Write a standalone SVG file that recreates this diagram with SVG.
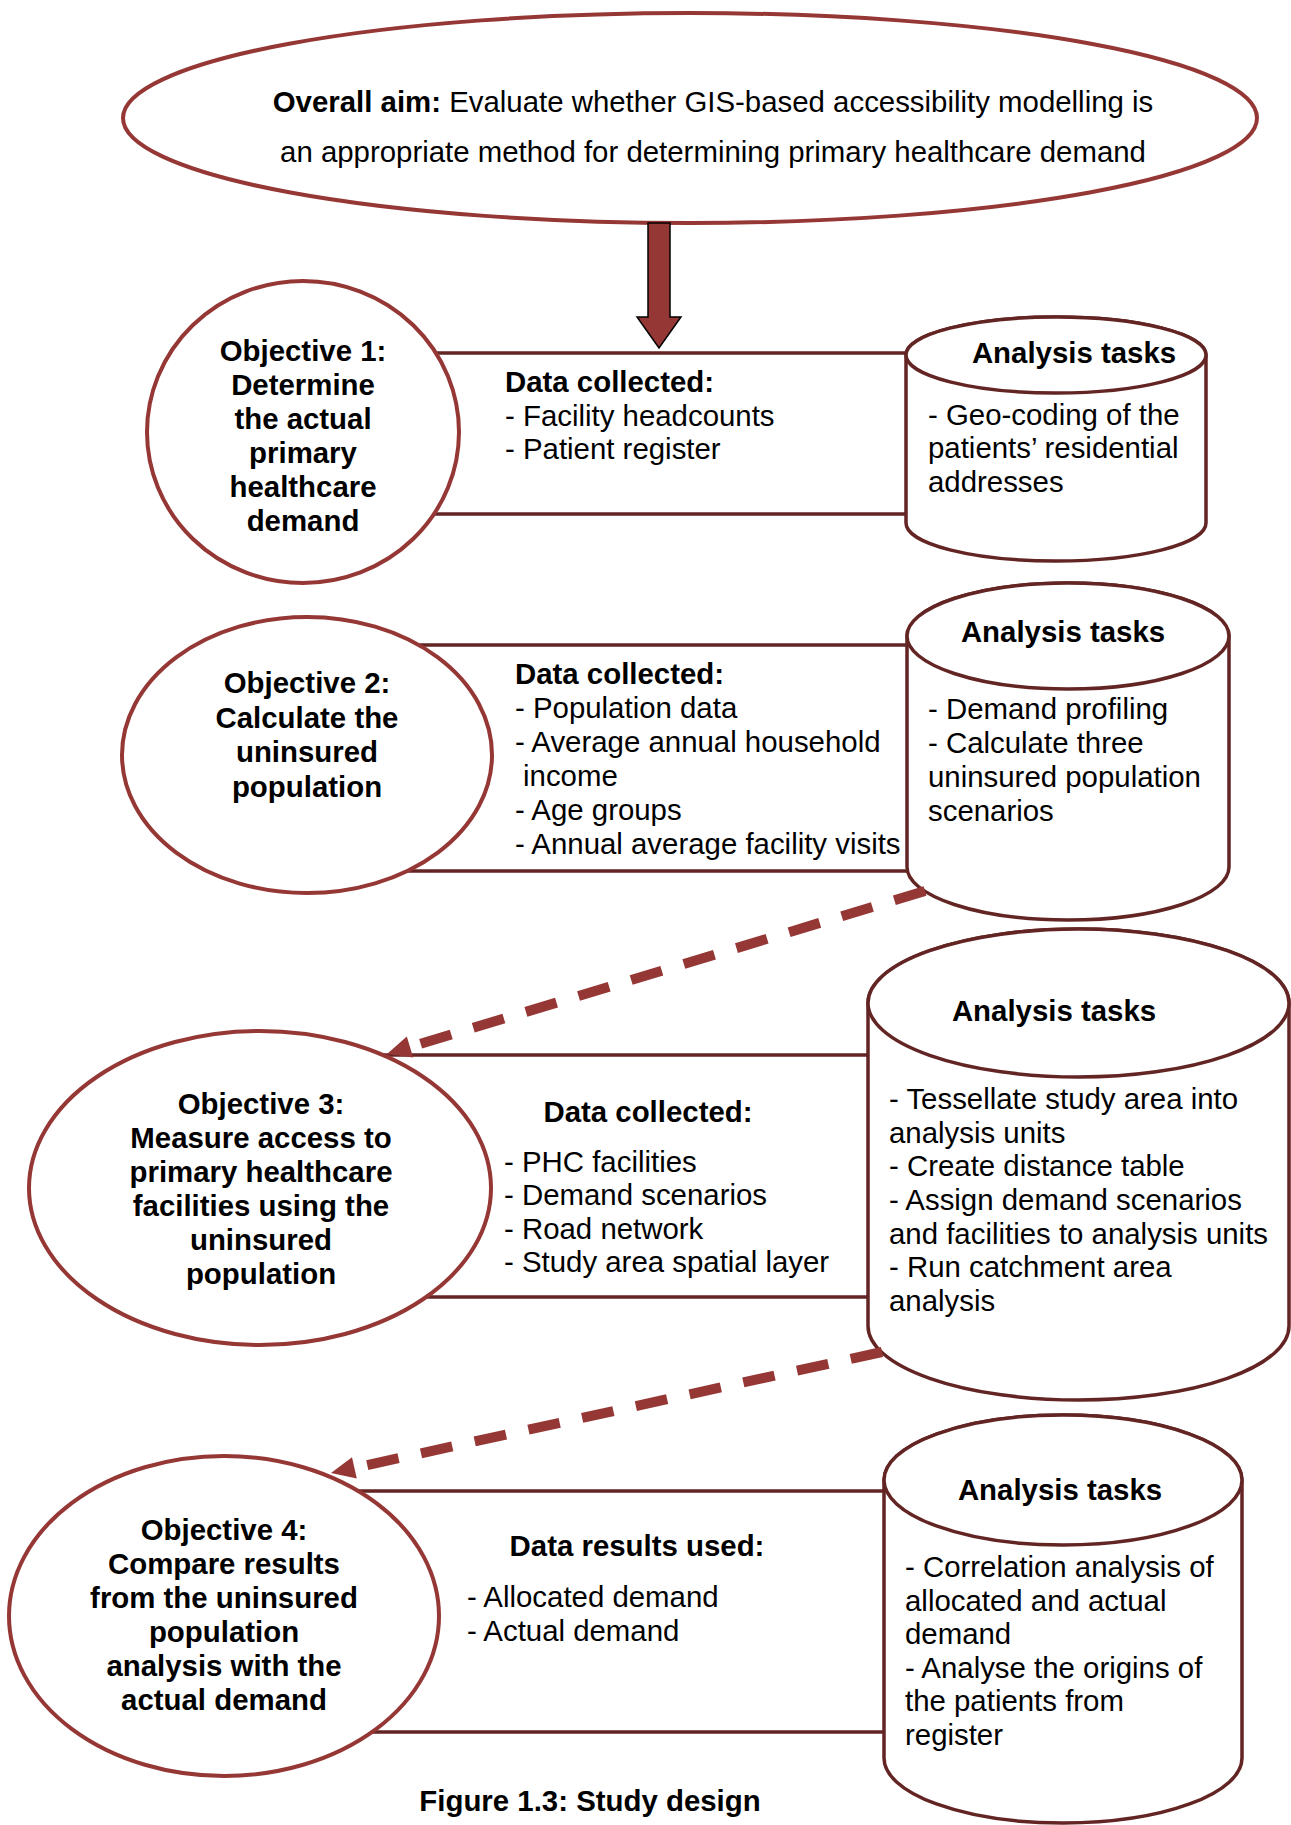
<svg xmlns="http://www.w3.org/2000/svg" width="1291" height="1825" viewBox="0 0 1291 1825">
<style>
.oval{fill:#fff;stroke:#953735;stroke-width:4}
.cyl{fill:#fff;stroke:#632523;stroke-width:3.5}
.band{fill:#fff;stroke:#632523;stroke-width:3.5}
.t{font-family:"Liberation Sans",Arial,sans-serif;font-size:29.4px;fill:#000}
.b{font-weight:bold}
.m{text-anchor:middle}
.dash{fill:none;stroke:#953735;stroke-width:10;stroke-dasharray:32 23}
.head{fill:#953735}
</style>
<rect width="1291" height="1825" fill="#fff"/>

<g id="bands">
<rect class="band" x="303" y="353" width="753" height="161"/>
<rect class="band" x="307" y="645" width="761" height="226"/>
<rect class="band" x="260" y="1055" width="818" height="242"/>
<rect class="band" x="224" y="1491" width="839" height="241"/>
</g>

<g id="aim">
<ellipse class="oval" cx="690" cy="118" rx="567" ry="105"/>
<text class="t m" x="713" y="112"><tspan class="b">Overall aim:</tspan> Evaluate whether GIS-based accessibility modelling is</text>
<text class="t m" x="713" y="162">an appropriate method for determining primary healthcare demand</text>
</g>

<g id="objective1">
<ellipse class="oval" cx="303" cy="432" rx="156" ry="151"/>
<text class="t b m" x="303" y="361">Objective 1:</text>
<text class="t b m" x="303" y="395">Determine</text>
<text class="t b m" x="303" y="429">the actual</text>
<text class="t b m" x="303" y="463">primary</text>
<text class="t b m" x="303" y="497">healthcare</text>
<text class="t b m" x="303" y="531">demand</text>
</g>
<g id="data1">
<text class="t b" x="505" y="392">Data collected:</text>
<text class="t" x="505" y="426">- Facility headcounts</text>
<text class="t" x="505" y="459">- Patient register</text>
</g>
<g id="tasks1">
<path class="cyl" d="M906,355 L906,523 A150,38 0 0 0 1206,523 L1206,355 A150,38 0 0 0 906,355 Z"/>
<ellipse class="cyl" cx="1056" cy="355" rx="150" ry="38"/>
<text class="t b m" x="1074" y="363">Analysis tasks</text>
<text class="t" x="928" y="425">- Geo-coding of the</text>
<text class="t" x="928" y="458">patients’ residential</text>
<text class="t" x="928" y="492">addresses</text>
</g>

<g id="objective2">
<ellipse class="oval" cx="307" cy="755" rx="185" ry="138"/>
<text class="t b m" x="307" y="693">Objective 2:</text>
<text class="t b m" x="307" y="728">Calculate the</text>
<text class="t b m" x="307" y="762">uninsured</text>
<text class="t b m" x="307" y="797">population</text>
</g>
<g id="data2">
<text class="t b" x="515" y="684">Data collected:</text>
<text class="t" x="515" y="718">- Population data</text>
<text class="t" x="515" y="752">- Average annual household</text>
<text class="t" x="523" y="786">income</text>
<text class="t" x="515" y="820">- Age groups</text>
<text class="t" x="515" y="854">- Annual average facility visits</text>
</g>
<g id="tasks2">
<path class="cyl" d="M907,636 L907,867 A161,53 0 0 0 1229,867 L1229,636 A161,53 0 0 0 907,636 Z"/>
<ellipse class="cyl" cx="1068" cy="636" rx="161" ry="53"/>
<text class="t b m" x="1063" y="642">Analysis tasks</text>
<text class="t" x="928" y="719">- Demand profiling</text>
<text class="t" x="928" y="753">- Calculate three</text>
<text class="t" x="928" y="787">uninsured population</text>
<text class="t" x="928" y="821">scenarios</text>
</g>

<g id="objective3">
<ellipse class="oval" cx="260" cy="1188" rx="231" ry="157"/>
<text class="t b m" x="261" y="1114">Objective 3:</text>
<text class="t b m" x="261" y="1148">Measure access to</text>
<text class="t b m" x="261" y="1182">primary healthcare</text>
<text class="t b m" x="261" y="1216">facilities using the</text>
<text class="t b m" x="261" y="1250">uninsured</text>
<text class="t b m" x="261" y="1284">population</text>
</g>
<g id="data3">
<text class="t b m" x="648" y="1122">Data collected:</text>
<text class="t" x="504" y="1172">- PHC facilities</text>
<text class="t" x="504" y="1205">- Demand scenarios</text>
<text class="t" x="504" y="1239">- Road network</text>
<text class="t" x="504" y="1272">- Study area spatial layer</text>
</g>
<g id="tasks3">
<path class="cyl" d="M868,1003 L868,1326 A210.5,74 0 0 0 1289,1326 L1289,1003 A210.5,74 0 0 0 868,1003 Z"/>
<ellipse class="cyl" cx="1078.5" cy="1003" rx="210.5" ry="74"/>
<text class="t b m" x="1054" y="1021">Analysis tasks</text>
<text class="t" x="889" y="1109">- Tessellate study area into</text>
<text class="t" x="889" y="1143">analysis units</text>
<text class="t" x="889" y="1176">- Create distance table</text>
<text class="t" x="889" y="1210">- Assign demand scenarios</text>
<text class="t" x="889" y="1244">and facilities to analysis units</text>
<text class="t" x="889" y="1277">- Run catchment area</text>
<text class="t" x="889" y="1311">analysis</text>
</g>

<g id="objective4">
<ellipse class="oval" cx="224" cy="1616" rx="215" ry="160"/>
<text class="t b m" x="224" y="1540">Objective 4:</text>
<text class="t b m" x="224" y="1574">Compare results</text>
<text class="t b m" x="224" y="1608">from the uninsured</text>
<text class="t b m" x="224" y="1642">population</text>
<text class="t b m" x="224" y="1676">analysis with the</text>
<text class="t b m" x="224" y="1710">actual demand</text>
</g>
<g id="data4">
<text class="t b m" x="637" y="1556">Data results used:</text>
<text class="t" x="467" y="1607">- Allocated demand</text>
<text class="t" x="467" y="1641">- Actual demand</text>
</g>
<g id="tasks4">
<path class="cyl" d="M884,1480 L884,1758 A179,65 0 0 0 1242,1758 L1242,1480 A179,65 0 0 0 884,1480 Z"/>
<ellipse class="cyl" cx="1063" cy="1480" rx="179" ry="65"/>
<text class="t b m" x="1060" y="1500">Analysis tasks</text>
<text class="t" x="905" y="1577">- Correlation analysis of</text>
<text class="t" x="905" y="1611">allocated and actual</text>
<text class="t" x="905" y="1644">demand</text>
<text class="t" x="905" y="1678">- Analyse the origins of</text>
<text class="t" x="905" y="1711">the patients from</text>
<text class="t" x="905" y="1745">register</text>
</g>

<g id="connectors">
<polygon points="648,223 670,223 670,317 681,317 659,348 637,317 648,317" fill="#953735" stroke="#000" stroke-width="1.5" stroke-linejoin="miter"/>
<line class="dash" x1="925" y1="891" x2="410" y2="1047"/>
<polygon class="head" points="387,1054 413.2,1057.5 406.8,1036.5"/>
<line class="dash" x1="882" y1="1352" x2="354" y2="1468"/>
<polygon class="head" points="331,1473 356.8,1478.6 352,1457.2"/>
</g>

<g id="caption">
<text class="t b m" x="590" y="1811">Figure 1.3: Study design</text>
</g>
</svg>
